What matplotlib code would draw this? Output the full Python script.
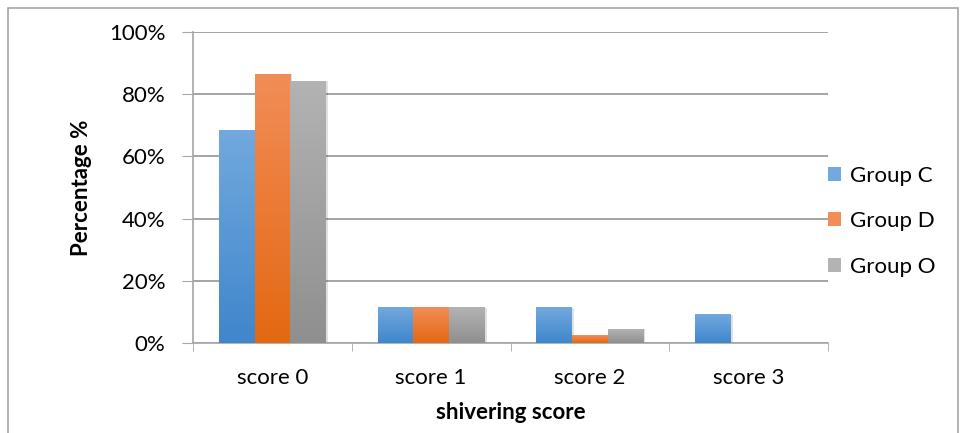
import matplotlib.pyplot as plt
import numpy as np
from matplotlib.patches import Rectangle
from matplotlib.colors import LinearSegmentedColormap

categories = ["score 0", "score 1", "score 2", "score 3"]
groups = ["Group C", "Group D", "Group O"]
group_c = [68.2, 11.4, 11.4, 9.1]
group_d = [86.4, 11.4, 2.3, 0.0]
group_o = [84.1, 11.4, 4.5, 0.0]
yticks = [0, 20, 40, 60, 80, 100]

# top / bottom colours for the gradient fill of each series
shades = [("#72a9de", "#3f86cc"), ("#f28d58", "#e36812"), ("#b3b3b3", "#8f8f8f")]

plt.rcParams["font.family"] = ["Lato", "DejaVu Sans"]
fs = 16

fig = plt.figure(figsize=(9.64, 4.33), dpi=100)
ax = fig.add_axes([193 / 964, 1 - 343 / 433, 635 / 964, 311 / 433])

# outer frame around the chart area
fig.patches.append(Rectangle((8 / 964, -0.05), 950 / 964, 1 - 8 / 433 + 0.05,
                             transform=fig.transFigure, fill=False,
                             edgecolor="#a6a6a6", linewidth=1.2))

width = 0.225
series = [group_c, group_d, group_o]
x = np.arange(len(categories))
for i, (vals, (top, bot)) in enumerate(zip(series, shades)):
    cmap = LinearSegmentedColormap.from_list("g%d" % i, [bot, top])
    grad = np.linspace(0, 1, 256).reshape(-1, 1)
    for xi, v in zip(x, vals):
        if v <= 0:
            continue
        left = xi + (i - 1) * width - width / 2
        # soft shadow
        ax.add_patch(Rectangle((left + 0.012, 0), width, v, facecolor="#000000",
                               alpha=0.12, linewidth=0, zorder=2))
        ax.imshow(grad, cmap=cmap, origin="lower", aspect="auto",
                  extent=(left, left + width, 0, v), zorder=3)
    ax.bar([0], [0], color=top, label=groups[i])

ax.set_xlim(-0.5, 3.5)
ax.set_ylim(0, 100)
ax.set_yticks(yticks)
ax.set_yticklabels(["%d%%" % t for t in yticks], fontsize=fs)
ax.set_xticks(x)
ax.set_xticklabels(categories, fontsize=fs)
ax.set_xticks(np.arange(-0.5, 4, 1), minor=True)
ax.tick_params(axis="x", which="major", length=0, pad=18)
ax.tick_params(axis="x", which="minor", length=6, color="#a6a6a6")
ax.tick_params(axis="y", length=8, color="#a6a6a6", pad=12)
ax.grid(axis="y", color="#8c8c8c", linewidth=1.1, zorder=0)
ax.set_axisbelow(True)
for s in ["top", "right"]:
    ax.spines[s].set_visible(False)
for s in ["left", "bottom"]:
    ax.spines[s].set_color("#a6a6a6")
    ax.spines[s].set_linewidth(1.2)

ax.set_ylabel("Percentage %", fontsize=fs, fontweight="bold", labelpad=12)
ax.set_xlabel("shivering score", fontsize=fs, fontweight="bold", labelpad=10)

ax.legend(loc="center left", bbox_to_anchor=(1.0, 0.392), frameon=False,
          fontsize=fs, handlelength=0.6, handleheight=0.6, handletextpad=0.4,
          labelspacing=1.15, borderaxespad=0.0, borderpad=0.0)

fig.savefig("out.png", dpi=100)
